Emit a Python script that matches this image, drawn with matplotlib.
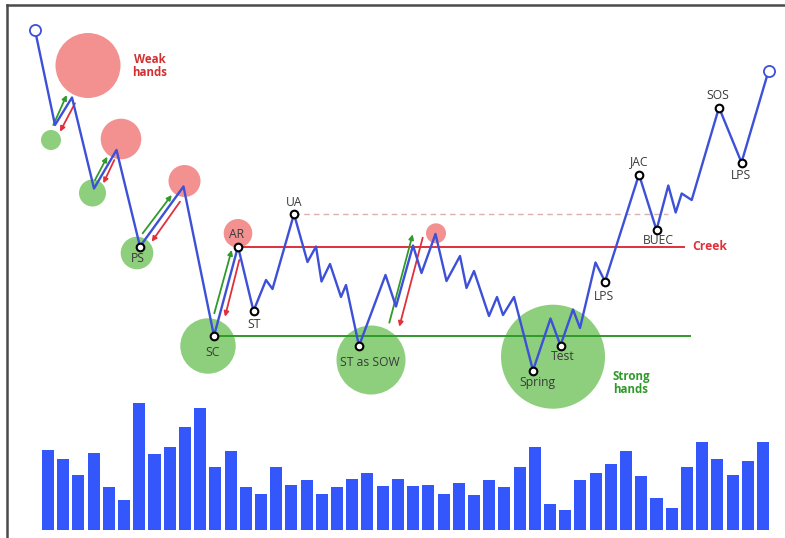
import numpy as np
import matplotlib
matplotlib.use('Agg')
import matplotlib.pyplot as plt
from matplotlib.patches import Circle
from matplotlib.lines import Line2D

plt.rcParams['font.family'] = ['Open Sans', 'DejaVu Sans']

# price path (time, price)
time = [35, 55, 72, 94, 116.5, 140, 183.5, 214, 238, 253.5, 266, 272.5, 294,
        307.5, 316, 321.5, 330, 341, 346, 359, 385.5, 396, 413, 421.5, 435.5,
        446.5, 460, 466.5, 474, 489, 497, 503, 514, 533, 550.5, 560.5, 573,
        580, 595.5, 605, 639, 656.5, 668.3, 675.7, 681.7, 691.7, 719, 741.5,
        768.5]
price = [508, 413, 440.5, 349.5, 388, 291.5, 351.5, 202, 291.5, 227, 258, 249,
         324, 276, 291.5, 256.5, 274, 241, 253, 192, 263, 231.5, 292.5, 265,
         304, 257, 282, 250, 267, 222, 241, 223, 241, 167.5, 219.5, 192.5,
         228.5, 210, 275.5, 256.5, 363.5, 308, 352.5, 325.5, 344.5, 338,
         430.5, 375.5, 467]

# labelled events: (label, index into path)
events = [('PS', 5), ('SC', 7), ('AR', 8), ('ST', 9), ('UA', 12),
          ('ST as SOW', 19), ('Spring', 33), ('Test', 35), ('LPS', 39),
          ('JAC', 40), ('BUEC', 41), ('SOS', 46), ('LPS', 47)]

creek = 291.5
support = 202
ua_level = 324.5

# weak / strong hands bubbles: (time, price, radius)
weak = [(88, 472.5, 32.5), (121, 399, 20.3), (184.5, 357, 16),
        (238, 304.7, 14.3), (436, 304.7, 10)]
strong = [(51, 398, 10), (92.5, 345, 13.5), (137, 285, 16.3),
          (208, 192, 27.7), (371, 178, 34.5), (553, 181.3, 52)]

# buying / selling pressure arrows: (tail_t, tail_p, head_t, head_p)
buy_arrows = [(53.3, 413, 66.7, 443), (95, 358, 107.3, 381.3),
              (142.7, 304.7, 171.7, 343), (214.3, 224.7, 231.7, 288),
              (389.3, 215.3, 412.7, 303.7)]
sell_arrows = [(75, 434.7, 60, 406.3), (114.3, 378, 103.3, 354.7),
               (180, 336.3, 151.7, 296.3), (239.3, 278, 225, 221.3),
               (422.7, 300.3, 399.3, 211.3)]

volume = [80, 71, 55, 77, 43, 30, 127, 76, 83, 103, 122, 63, 79, 43, 36, 63,
          45, 50, 36, 43, 51, 57, 44, 51, 44, 45, 36, 47, 35, 50, 43, 63, 83,
          26, 20, 50, 57, 66, 79, 54, 32, 22, 63, 88, 71, 55, 69, 88]

BLUE = '#3d50d8'
BAR = '#3457fb'
PINK = '#f39090'
LGREEN = '#8dcf7d'
RED = '#e0303a'
GREEN = '#2f9a2a'
TXT = '#3a3a3a'

fig = plt.figure(figsize=(7.85, 5.38), dpi=100)
ax = fig.add_axes([0, 0, 1, 1])
ax.set_xlim(0, 785)
ax.set_ylim(0, 538)
ax.axis('off')

for t, p, r in weak:
    ax.add_patch(Circle((t, p), r, color=PINK, lw=0, zorder=1))
for t, p, r in strong:
    ax.add_patch(Circle((t, p), r, color=LGREEN, lw=0, zorder=1))

ax.plot([time[8], 684], [creek, creek], color=RED, lw=1.4, zorder=2)
ax.plot([time[7], 690], [support, support], color=GREEN, lw=1.4, zorder=2)
ax.plot([time[12], 668], [ua_level, ua_level], color='#d9b2b2', lw=1,
        ls=(0, (4, 3)), zorder=2)

for t0, p0, t1, p1 in buy_arrows:
    ax.annotate('', xy=(t1, p1), xytext=(t0, p0),
                arrowprops=dict(arrowstyle='-|>', color=GREEN, lw=1.3,
                                mutation_scale=7, shrinkA=0, shrinkB=0), zorder=3)
for t0, p0, t1, p1 in sell_arrows:
    ax.annotate('', xy=(t1, p1), xytext=(t0, p0),
                arrowprops=dict(arrowstyle='-|>', color=RED, lw=1.3,
                                mutation_scale=7, shrinkA=0, shrinkB=0), zorder=3)

ax.plot(time, price, color=BLUE, lw=1.7, zorder=4)
ax.plot([time[0], time[-1]], [price[0], price[-1]], 'o', ms=8, mfc='white',
        mec=BLUE, mew=1.3, zorder=5)

# label offsets in pixels
offsets = {0: (-2, -12), 1: (-1, -16), 2: (-1, 12), 3: (1, -14), 4: (0, 12),
           5: (11, -16), 6: (4, -12), 7: (2, -11), 8: (-1, -15), 9: (0, 13),
           10: (2, -10), 11: (-1, 12), 12: (0, -13)}
for k, (lab, i) in enumerate(events):
    ax.plot(time[i], price[i], 'o', ms=5.5, mfc='white', mec='black',
            mew=1.5, zorder=6)
    dx, dy = offsets[k]
    ax.annotate(lab, (time[i], price[i]), xytext=(dx, dy),
                textcoords='offset pixels', ha='center', va='center',
                fontsize=8.7, color=TXT, fontweight='medium', zorder=7)

ax.text(150, 472, 'Weak\nhands', color='#d23030', fontsize=8.3,
        fontweight='bold', ha='center', va='center', linespacing=1.05)
ax.text(631, 155, 'Strong\nhands', color=GREEN, fontsize=8.3,
        fontweight='bold', ha='center', va='center', linespacing=1.05)
ax.text(692, creek, 'Creek', color=RED, fontsize=8.7, fontweight='bold',
        ha='left', va='center')

# volume
vax = fig.add_axes([40.4 / 785, 8 / 538, 730.2 / 785, 130 / 538])
vax.bar(np.arange(len(volume)), volume, width=0.79, color=BAR)
vax.set_xlim(-0.5, len(volume) - 0.5)
vax.set_ylim(0, 130)
vax.axis('off')

# frame
fig.add_artist(Line2D([7 / 785, 7 / 785], [0, 1 - 5 / 538], color='#4a4a4a', lw=1.8))
fig.add_artist(Line2D([7 / 785, 1], [1 - 5 / 538, 1 - 5 / 538], color='#4a4a4a', lw=1.8))

fig.savefig('out.png', dpi=100)
